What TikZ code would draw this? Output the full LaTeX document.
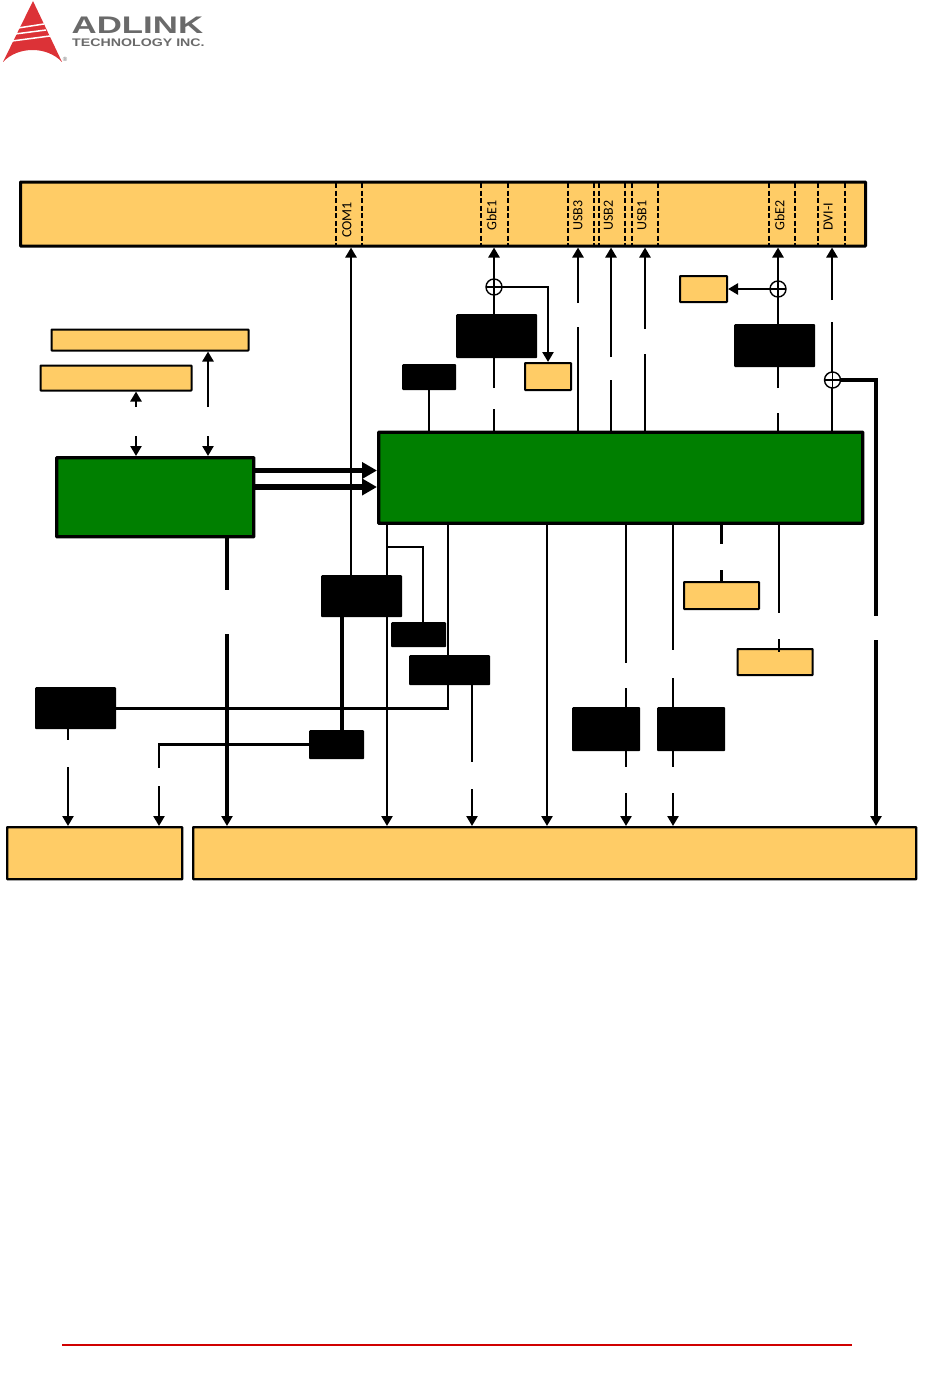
\documentclass[tikz,border=0pt]{standalone}
\usepackage{fontspec}
\setmainfont{Carlito}
\newfontfamily\logofont{Liberation Sans}
\usetikzlibrary{arrows.meta}
\definecolor{boxyellow}{HTML}{FFCC66}
\definecolor{boxgreen}{HTML}{007F00}
\definecolor{logored}{HTML}{DC3237}
\definecolor{logogray}{HTML}{6A6A6A}
\definecolor{footred}{HTML}{D00000}
\tikzset{
>={Triangle[width=11pt,length=10pt]}, % the small arrow heads
every node/.style={inner sep=0pt, anchor=north west},
ybox/.style={draw, fill=boxyellow, line width=2pt, rounded corners=0.5pt}, % the yellow boxes
gbox/.style={draw, fill=boxgreen, line width=3.4pt, rounded corners=0.5pt}, % the two green chips
bbox/.style={fill=black, rounded corners=1pt}, % the black boxes
conn/.style={draw, line width=2.8pt}, % normal connector
conns/.style={conn, every edge/.style={conn}}, % same, for a list of edges
fatconn/.style={draw, line width=3.6pt}, % heavier connector
busconn/.style={draw, line width=5.5pt, -{Triangle[width=16pt,length=15pt]}}, % the two buses
portline/.style={line width=2pt, dash pattern=on 5pt off 2.5pt},
portlbl/.style={rotate=90, anchor=west, font=\fontsize{14}{14}\selectfont},
split/.style={circle, draw, fill=white, line width=1.4pt, minimum size=16pt, anchor=center,
  path picture={\draw[line width=1.2pt] (path picture bounding box.north) -- (path picture bounding box.south)
  (path picture bounding box.west) -- (path picture bounding box.east);}},
}
\begin{document}
\begin{tikzpicture}[x=1pt, y=-1pt]
  \useasboundingbox (0,0) rectangle (950,1381);

  % logo
  \fill[logored] (33,1) -- (62,62) .. controls (47,46) and (18,46) .. (3,62) -- cycle;
  \draw[white, line width=1.5pt] (18,28) -- (44,24) (15,34) -- (46,30) (12,41) -- (50,36);
  \node[text=logogray, anchor=west] (logoa) at (71.5,25.5) {\logofont\bfseries\fontsize{24}{24}\selectfont\scalebox{1.45}[1]{ADLINK}};
  \node[text=logogray, anchor=west] (logob) at (72,42.5) {\logofont\bfseries\fontsize{11}{11}\selectfont\scalebox{1.29}[1]{TECHNOLOGY INC.}};
  \node[text=logogray, anchor=center] (logoc) at (65,59) {\logofont\fontsize{6}{6}\selectfont®};

  % connector rail with its ports
  \node[ybox, line width=3pt, minimum width=845pt, minimum height=64pt] (ports) at (19,180.5) {};
  \foreach \x/\w in {336/2.6, 362/2, 481/2.6, 508/2, 568/2, 594/2.6, 599/2.4, 625/1.4, 632/2.4, 658/2.2, 769/2, 795/2.8, 818/2, 845/1.4}
    \draw[portline, line width=\w pt] (\x,183) -- (\x,245);
  \node[portlbl] (com1) at (347,238) {COM1};
  \node[portlbl] (gbe1) at (491.5,231) {GbE1};
  \node[portlbl] (usb3) at (578,231) {USB3};
  \node[portlbl] (usb2) at (608.5,231) {USB2};
  \node[portlbl] (usb1) at (642,231) {USB1};
  \node[portlbl] (gbe2) at (779.5,231) {GbE2};
  \node[portlbl] (dvi) at (828,231) {DVI-I};

  % yellow boxes
  \node[ybox, minimum width=197pt, minimum height=21pt] (memb) at (50.5,328.5) {};
  \node[ybox, minimum width=151pt, minimum height=25pt] (mema) at (39.5,364.5) {};
  \node[ybox, minimum width=46pt, minimum height=27pt] (ygbe1) at (524,362) {};
  \node[ybox, minimum width=47pt, minimum height=26pt] (ygbe2) at (679,275) {};
  \node[ybox, minimum width=75pt, minimum height=27pt] (yaud) at (683,581) {};
  \node[ybox, minimum width=75pt, minimum height=26pt] (ypci) at (736.6,648) {};
  \node[ybox, line width=2.4pt, minimum width=175pt, minimum height=52pt] (botl) at (6,826) {};
  \node[ybox, line width=2.4pt, minimum width=723pt, minimum height=52pt] (botr) at (192,826) {};

  % the two chips
  \node[gbox, minimum width=197pt, minimum height=79pt] (gleft) at (55,456) {};
  \node[gbox, minimum width=484pt, minimum height=91pt] (gbig) at (377,430.5) {};

  % black boxes
  \node[bbox, minimum width=81pt, minimum height=44pt] (bgbe1) at (456,314) {};
  \node[bbox, minimum width=54pt, minimum height=26pt] (bsmall) at (402,364) {};
  \node[bbox, minimum width=81pt, minimum height=43pt] (bgbe2) at (734,324) {};
  \node[bbox, minimum width=81pt, minimum height=42pt] (bsio) at (321,575) {};
  \node[bbox, minimum width=55pt, minimum height=25pt] (bclk) at (391,622) {};
  \node[bbox, minimum width=81pt, minimum height=30pt] (bhub) at (409,655) {};
  \node[bbox, minimum width=81pt, minimum height=42pt] (bleft) at (35,687) {};
  \node[bbox, minimum width=55pt, minimum height=29pt] (bcan) at (309,730) {};
  \node[bbox, minimum width=68pt, minimum height=44pt] (bpa) at (572,707) {};
  \node[bbox, minimum width=68pt, minimum height=44pt] (bpb) at (657,707) {};

  % ends of the line pieces
  \foreach \n/\x/\y in {gbe1u/494/388, gbe1d/494/409, usb3u/578/303, usb3d/578/327, usb2u/611/357, usb2d/611/380,
    usb1u/645/329, usb1d/645/354, gbe2u/778/388, gbe2d/778/413, dviu/832/300, dvid/832/322,
    dvru/876/616, dvrd/876/640, memau/136/407, memad/136/436, membu/208/407, membd/208/436,
    leftu/227/590, leftd/227/634, hubu/472/762, hubd/472/789, pau/626/663, pad/626/688, pbu/673/650, pbd/673/678,
    pcu/626/767, pcd/626/793, peu/673/767, ped/673/793, audu/721.5/544, audd/721.5/570, pciu/779/613, pcid/779/639,
    pcie/779/652, lau/68/740, lad/68/767, lbu/159/768, lbd/159/786, xcom/351/0, xsm/429/0, xsio/387/0, xbr/387/547,
    xclk/423/547, xhub/448/0, xsata/547/0, xcan/342/0, busa/300/470.5, busb/300/487, xgbe1/494/287, xgbe2/778/289,
    xdvi/832.5/380}
    \coordinate (\n) at (\x,\y);

  % connectors up to the rail
  \draw[conns]
    (bsio.north -| xcom) edge[->] (ports.south -| xcom)
    (gbig.north -| xsm) edge (bsmall.south -| xsm)
    (gbig.north -| gbe1d) edge (gbe1d)
    (gbe1u) edge[->] (ports.south -| gbe1u)
    (gbig.north -| usb3d) edge (usb3d)
    (usb3u) edge[->] (ports.south -| usb3u)
    (gbig.north -| usb2d) edge (usb2d)
    (usb2u) edge[->] (ports.south -| usb2u)
    (gbig.north -| usb1d) edge (usb1d)
    (usb1u) edge[->] (ports.south -| usb1u)
    (gbig.north -| gbe2d) edge (gbe2d)
    (gbe2u) edge[->] (ports.south -| gbe2u)
    (gbig.north -| dvid) edge (dvid)
    (dviu) edge[->] (ports.south -| dviu);

  % connectors round the left chip
  \draw[conns]
    (memau) edge[->] (mema.south -| memau)
    (memad) edge[->] (gleft.north -| memad)
    (membu) edge[->] (memb.south -| membu)
    (membd) edge[->] (gleft.north -| membd);
  \draw[busconn] (gleft.east |- busa) -- (gbig.west |- busa);
  \draw[busconn] (gleft.east |- busb) -- (gbig.west |- busb);
  \draw[fatconn] (gleft.south -| leftu) -- (leftu);
  \draw[fatconn, ->] (leftd) -- (botr.north -| leftd);

  % connectors down from the big chip
  \draw[conns]
    (gbig.south -| xsio) edge[->] (botr.north -| xsio)
    (gbig.south -| xsata) edge[->] (botr.north -| xsata)
    (gbig.south -| pau) edge (pau)
    (pad) edge (pcu)
    (pcd) edge[->] (botr.north -| pcd)
    (gbig.south -| pbu) edge (pbu)
    (pbd) edge (peu)
    (ped) edge[->] (botr.north -| ped)
    (gbig.south -| audu) edge (audu)
    (audd) edge (yaud.north -| audd)
    (gbig.south -| pciu) edge (pciu)
    (pcid) edge (pcie)
    (bhub.south -| hubu) edge (hubu)
    (hubd) edge[->] (botr.north -| hubd)
    (bleft.south -| lau) edge (lau)
    (lad) edge[->] (botl.north -| lad)
    (lbd) edge[->] (botl.north -| lbd);
  \draw[conn] (xbr) -| (bclk.north -| xclk);
  \draw[conn] (gbig.south -| xhub) |- (bleft.east);
  \draw[conn] (bcan.west) -| (lbu);
  \draw[fatconn] (bsio.south -| xcan) -- (bcan.north -| xcan);

  % the branches
  \draw[conn, ->] (xgbe1) -| (ygbe1.north);
  \draw[conn, ->] (xgbe2) -- (ygbe2.east |- xgbe2);
  \draw[fatconn] (xdvi) -| (dvru);
  \draw[fatconn, ->] (dvrd) -- (botr.north -| dvrd);
  \node[split] (sgbe1) at (xgbe1) {};
  \node[split] (sgbe2) at (xgbe2) {};
  \node[split] (sdvi) at (xdvi) {};

  % footer
  \coordinate (footl) at (62,1345);
  \coordinate (footr) at (852,1345);
  \draw[footred, line width=2.4pt] (footl) -- (footr);
\end{tikzpicture}
\end{document}
